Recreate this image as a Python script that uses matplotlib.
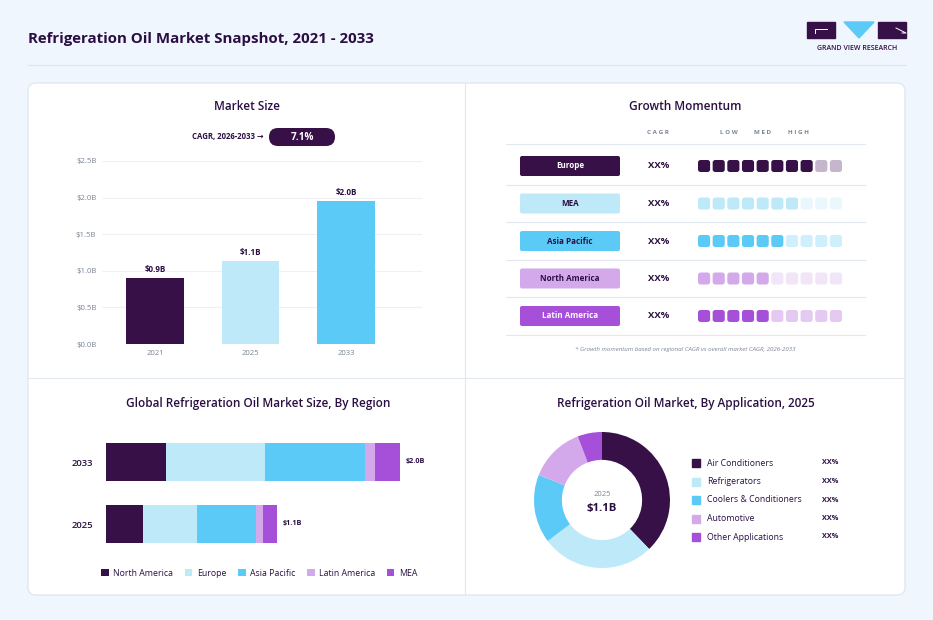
import matplotlib
matplotlib.use("Agg")
import matplotlib.pyplot as plt
from matplotlib.patches import FancyBboxPatch, Rectangle, Polygon

plt.rcParams["font.family"] = ["Open Sans", "DejaVu Sans"]

W, H = 933, 620

# ---- data ----
years = ["2021", "2025", "2033"]
market_size = [0.90, 1.13, 1.95]
market_labels = ["$0.9B", "$1.1B", "$2.0B"]
size_ticks = [0.0, 0.5, 1.0, 1.5, 2.0, 2.5]
cagr_text = "7.1%"

momentum_regions = ["Europe", "MEA", "Asia Pacific", "North America", "Latin America"]
momentum_filled = [8, 7, 6, 5, 5]
momentum_total = 10
momentum_cagr = ["XX%", "XX%", "XX%", "XX%", "XX%"]

region_names = ["North America", "Europe", "Asia Pacific", "Latin America", "MEA"]
region_years = ["2025", "2033"]
region_2025 = [0.255, 0.368, 0.402, 0.043, 0.095]
region_2033 = [0.407, 0.677, 0.682, 0.068, 0.166]
region_totals = ["$1.1B", "$2.0B"]

apps = ["Air Conditioners", "Refrigerators", "Coolers & Conditioners", "Automotive", "Other Applications"]
app_share = [37.8, 26.9, 16.3, 13.2, 5.8]
app_labels = ["XX%", "XX%", "XX%", "XX%", "XX%"]

# ---- colours ----
DARK = "#371047"
LBLUE = "#BDE9F9"
SKY = "#5BCAF6"
LAV = "#D4A9EC"
PURP = "#A64FD9"
TXT = "#2B0F43"
GRAY = "#7C8494"
LINE = "#E2E8F0"
BG = "#EFF6FD"

region_colors = [DARK, LBLUE, SKY, LAV, PURP]
mom_colors = [DARK, LBLUE, SKY, LAV, PURP]
mom_faded = ["#C4B7CB", "#EAF7FD", "#CFEFFC", "#F1E5F8", "#E4C9F3"]
mom_text = ["white", TXT, TXT, TXT, "white"]
app_colors = [DARK, LBLUE, SKY, LAV, PURP]

fig = plt.figure(figsize=(W / 100, H / 100), dpi=100)
fig.patch.set_facecolor(BG)


def px_axes(x0, y0, x1, y1, **kw):
    return fig.add_axes([x0 / W, 1 - y1 / H, (x1 - x0) / W, (y1 - y0) / H], **kw)


# background overlay in pixel coordinates
bg = px_axes(0, 0, W, H)
bg.set_xlim(0, W)
bg.set_ylim(H, 0)
bg.axis("off")

bg.text(28, 39, "Refrigeration Oil Market Snapshot, 2021 - 2033", fontsize=10.8,
        fontweight="bold", color=TXT, va="center", ha="left")
bg.plot([28, 905], [65, 65], color="#DCE4EC", lw=0.8)

# logo
bg.add_patch(Rectangle((807, 22), 28, 16, color=DARK))
bg.plot([815, 815, 827], [33, 29, 29], color="white", lw=0.7)
bg.add_patch(Polygon([[844, 22], [874, 22], [859, 38]], color=SKY))
bg.add_patch(Rectangle((878, 22), 28, 16, color=DARK))
bg.plot([896, 906, 902], [28, 33, 33], color="white", lw=0.7)
bg.text(857, 49, "GRAND VIEW RESEARCH", fontsize=5, color=DARK, ha="center",
        va="center", fontweight="semibold")

# card
bg.add_patch(FancyBboxPatch((28, 83), 877, 512, boxstyle="round,pad=0,rounding_size=8",
                            fc="white", ec="#DCE4EC", lw=0.8))
bg.plot([465, 465], [83, 595], color=LINE, lw=0.8)
bg.plot([28, 905], [378, 378], color=LINE, lw=0.8)

# ---- panel 1: market size ----
bg.text(247, 107, "Market Size", fontsize=8.5, color=TXT, ha="center", va="center",
        fontweight="semibold")
bg.text(264, 137, "CAGR, 2026-2033 \u2192", fontsize=5.6, color=TXT, ha="right",
        va="center", fontweight="bold")
bg.add_patch(FancyBboxPatch((269, 128), 66, 18, boxstyle="round,pad=0,rounding_size=9",
                            fc=DARK, ec="none"))
bg.text(302, 137.5, cagr_text, fontsize=7.2, color="white", ha="center", va="center",
        fontweight="bold")

ax1 = px_axes(102, 161, 422, 344, facecolor="none")
xpos = list(range(len(years)))
ax1.bar(xpos, market_size, width=0.6, color=[DARK, LBLUE, SKY], zorder=3)
for x, v, lab in zip(xpos, market_size, market_labels):
    ax1.text(x, v + 0.06, lab, ha="center", va="bottom", fontsize=5.8,
             fontweight="bold", color=TXT)
ax1.set_xlim(-0.555, 2.796)
ax1.set_ylim(0, 2.5)
ax1.set_yticks(size_ticks)
ax1.set_yticklabels([f"${t:.1f}B" for t in size_ticks])
ax1.set_xticks(xpos)
ax1.set_xticklabels(years)
ax1.tick_params(axis="both", length=0, labelsize=5.6, labelcolor=GRAY)
ax1.tick_params(axis="y", pad=4)
ax1.tick_params(axis="x", pad=4)
ax1.grid(axis="y", color="#EEF0F6", lw=0.8, zorder=0)
for s in ax1.spines.values():
    s.set_visible(False)

# ---- panel 2: growth momentum ----
bg.text(685, 107, "Growth Momentum", fontsize=8.5, color=TXT, ha="center", va="center",
        fontweight="semibold")
for txt, x in [("C A G R", 658), ("L O W", 729), ("M E D", 763), ("H I G H", 799)]:
    bg.text(x, 132, txt, fontsize=4.5, color=GRAY, ha="center", va="center",
            fontweight="bold")
row_y0, row_step = 166, 37.5
bg.plot([506, 865], [144, 144], color=LINE, lw=0.8)
for i, (name, cagr) in enumerate(zip(momentum_regions, momentum_cagr)):
    cy = row_y0 + i * row_step
    bg.plot([506, 865], [cy + 18.5, cy + 18.5], color=LINE, lw=0.8)
    bg.add_patch(FancyBboxPatch((520, cy - 10), 100, 20,
                                boxstyle="round,pad=0,rounding_size=2",
                                fc=mom_colors[i], ec="none"))
    bg.text(570, cy, name, fontsize=5.8, color=mom_text[i], ha="center",
            va="center", fontweight="bold")
    bg.text(659, cy, cagr, fontsize=6.8, color=TXT, ha="center", va="center",
            fontweight="bold")
bg.text(685, 349, "* Growth momentum based on regional CAGR vs overall market CAGR, 2026-2033",
        fontsize=4.4, color=GRAY, ha="center", va="center", style="italic")

ax2 = px_axes(698, 144, 842, 335, facecolor="none")
sq = 12 / 14.5
sq_h = 12 / 37.5
for i, n in enumerate(momentum_filled):
    for j in range(momentum_total):
        col = mom_colors[i] if j < n else mom_faded[i]
        ax2.add_patch(FancyBboxPatch((j, i - sq_h / 2), sq, sq_h,
                                     boxstyle="round,pad=0,rounding_size=0.18",
                                     mutation_aspect=14.5 / 37.5, fc=col, ec="none"))
ax2.set_xlim(0, momentum_total - 1 + sq)
ax2.set_ylim(4 + 19 / 37.5, -22 / 37.5)
ax2.axis("off")

# ---- panel 3: stacked bars by region ----
bg.text(258, 404, "Global Refrigeration Oil Market Size, By Region", fontsize=8.5,
        color=TXT, ha="center", va="center", fontweight="semibold")
ax3 = px_axes(106, 430, 429, 555, facecolor="none")
ypos = [0, 1]
series = list(zip(region_2025, region_2033))
left = [0.0, 0.0]
for k, name in enumerate(region_names):
    vals = series[k]
    ax3.barh(ypos, vals, left=left, height=38 / 62, color=region_colors[k],
             label=name, zorder=3)
    left = [l + v for l, v in zip(left, vals)]
for y, tot, lab in zip(ypos, left, region_totals):
    ax3.text(tot + 0.04, y, lab, fontsize=5.2, fontweight="bold", color=TXT,
             va="center", ha="left")
ax3.set_xlim(0, 2.2)
ax3.set_ylim(-0.5, 1 + 32 / 62)
ax3.set_yticks(ypos)
ax3.set_yticklabels(region_years, fontweight="semibold")
ax3.set_xticks([])
ax3.tick_params(axis="y", length=0, labelsize=6.8, labelcolor=TXT, pad=9)
for s in ax3.spines.values():
    s.set_visible(False)
leg = ax3.legend(loc="center", bbox_to_anchor=(0.474, -0.145), ncol=5, frameon=False,
                 fontsize=6.3, handlelength=0.9, handleheight=0.9, handletextpad=0.5,
                 columnspacing=1.3)
for t in leg.get_texts():
    t.set_color(TXT)

# ---- panel 4: donut by application ----
bg.text(686, 404, "Refrigeration Oil Market, By Application, 2025", fontsize=8.5,
        color=TXT, ha="center", va="center", fontweight="semibold")
ax4 = px_axes(532, 430, 672, 570, facecolor="none")
ax4.pie(app_share, colors=app_colors, startangle=90, counterclock=False, radius=1,
        wedgeprops=dict(width=0.41, edgecolor="none"))
ax4.set_xlim(-70 / 68, 70 / 68)
ax4.set_ylim(-70 / 68, 70 / 68)
ax4.set_aspect("equal")
ax4.text(0, 0.08, "2025", fontsize=5.5, color=GRAY, ha="center", va="center")
ax4.text(0, -0.12, "$1.1B", fontsize=8.2, color=TXT, ha="center", va="center",
         fontweight="bold")

for i, (name, lab) in enumerate(zip(apps, app_labels)):
    y = 463 + i * 18.5
    bg.add_patch(Rectangle((692, y - 4), 8, 8, color=app_colors[i]))
    bg.text(707, y, name, fontsize=6.3, color=TXT, ha="left", va="center")
    bg.text(830, y, lab, fontsize=5.2, color=TXT, ha="center", va="center",
            fontweight="bold")

fig.savefig("out.png", dpi=100, facecolor=BG)
